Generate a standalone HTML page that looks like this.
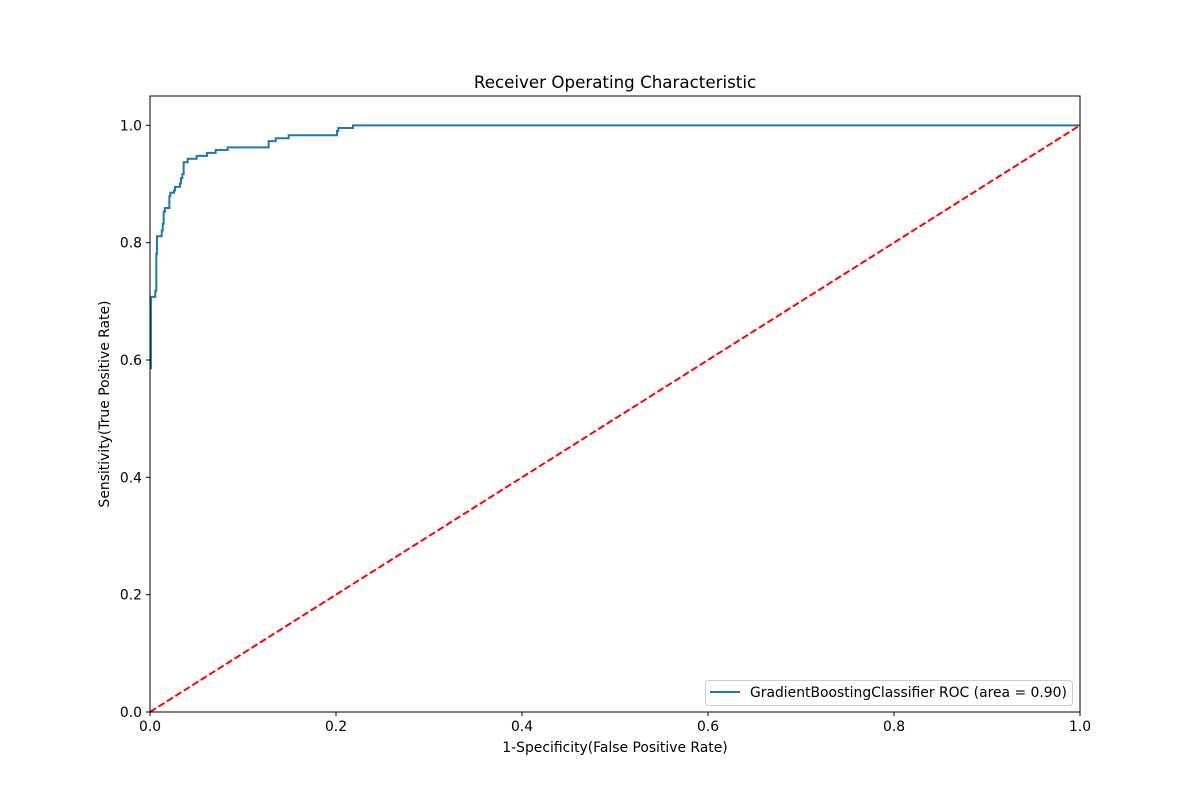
<!DOCTYPE html>
<html><head><meta charset="utf-8"><style>
body{margin:0;background:#fff;}
svg text{font-family:"DejaVu Sans","Liberation Sans",sans-serif;fill:#000;}
</style></head><body>
<svg id="chart" width="1200" height="800">
<rect width="1200" height="800" fill="#fff"/>
<text x="615" y="88" font-size="16.7" text-anchor="middle">Receiver Operating Characteristic</text>
<g id="ticks"></g>
<g id="plot"></g>
<rect x="150" y="96" width="930" height="616" fill="none" stroke="#000" stroke-width="1"/>
<text x="615" y="752" font-size="13.9" text-anchor="middle">1-Specificity(False Positive Rate)</text>
<text x="109" y="404" font-size="13.9" text-anchor="middle" transform="rotate(-90 109 404)">Sensitivity(True Positive Rate)</text>
<g>
<rect x="705.5" y="680.5" width="367" height="25" rx="3" fill="#fff" stroke="#ccc"/>
<line x1="710" y1="692" x2="740" y2="692" stroke="#1f77b4" stroke-width="2"/>
<text x="750" y="697" font-size="13.9">GradientBoostingClassifier ROC (area = 0.90)</text>
</g>
</svg>
<script>
const fpr=[0,0.001,0.001,0.0057,0.0057,0.0068,0.0068,0.0075,0.0075,0.0126,0.0126,0.0137,0.0137,0.0147,0.0147,0.0161,0.0161,0.0208,0.0208,0.0218,0.0218,0.0258,0.0258,0.0269,0.0269,0.0323,0.0323,0.0333,0.0333,0.0348,0.0348,0.0362,0.0362,0.0405,0.0405,0.0502,0.0502,0.0613,0.0613,0.0706,0.0706,0.0835,0.0835,0.1276,0.1276,0.1352,0.1352,0.1491,0.1491,0.2011,0.2011,0.2025,0.2025,0.2183,0.2183,1.0];
const tpr=[0.586,0.586,0.7075,0.7075,0.718,0.718,0.781,0.781,0.811,0.811,0.821,0.821,0.832,0.832,0.853,0.853,0.859,0.859,0.879,0.879,0.885,0.885,0.889,0.889,0.895,0.895,0.901,0.901,0.910,0.910,0.917,0.917,0.937,0.937,0.943,0.943,0.948,0.948,0.953,0.953,0.958,0.958,0.9625,0.9625,0.973,0.973,0.978,0.978,0.983,0.983,0.9905,0.9905,0.9955,0.9955,1.0,1.0];
const xTicks=[0,0.2,0.4,0.6,0.8,1.0];
const yTicks=[0,0.2,0.4,0.6,0.8,1.0];
const xs=v=>150+v*930, ys=v=>712-v*(616/1.05);
const NS="http://www.w3.org/2000/svg";
const tg=document.getElementById('ticks'), pg=document.getElementById('plot');
function mk(t,a,p){const e=document.createElementNS(NS,t);for(const k in a)e.setAttribute(k,a[k]);p.appendChild(e);return e;}
xTicks.forEach(v=>{
 const l=mk('line',{x1:xs(v),x2:xs(v),y1:712,y2:716,stroke:'#000'},tg);
 
 
 const t=mk('text',{x:xs(v),y:731,'font-size':13.9,'text-anchor':'middle'},tg);t.textContent=v.toFixed(1);
 
 
});
yTicks.forEach(v=>{
 const l=mk('line',{x1:146,x2:150,y1:ys(v),y2:ys(v),stroke:'#000'},tg);
 
 
 const t=mk('text',{x:142,y:ys(v)+5,'font-size':13.9,'text-anchor':'end'},tg);t.textContent=v.toFixed(1);
 
 
});
const d=mk('line',{x1:xs(0),y1:ys(0),x2:xs(1),y2:ys(1),stroke:'#ff0000','stroke-width':2,'stroke-dasharray':'7,3'},pg);


const roc=mk('polyline',{points:fpr.map((f,i)=>xs(f)+','+ys(tpr[i])).join(' '),fill:'none',stroke:'#1f77b4','stroke-width':2},pg);


</script>
</body></html>
